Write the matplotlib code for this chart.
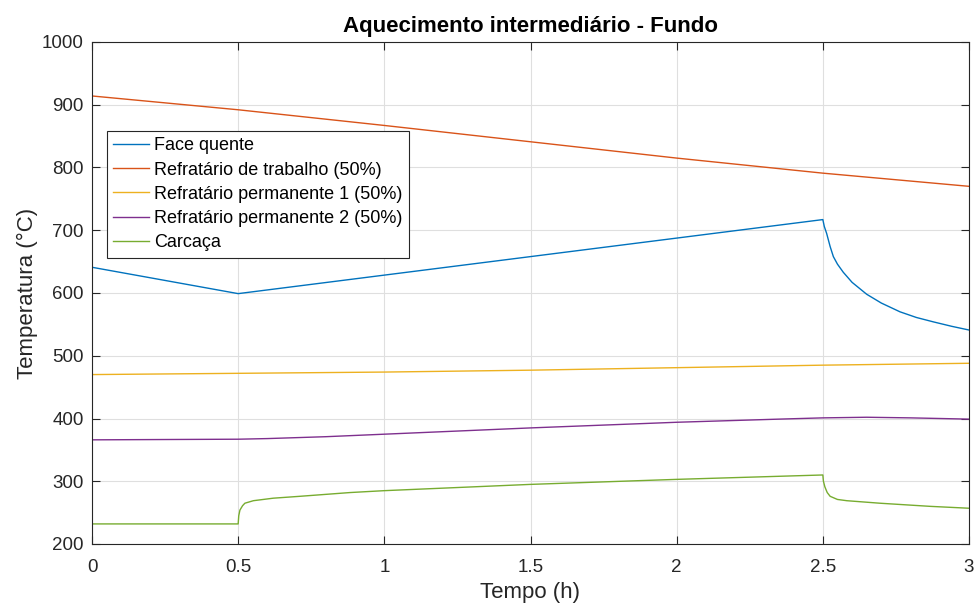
import matplotlib
matplotlib.use("Agg")
import matplotlib.pyplot as plt

plt.rcParams['font.family'] = ['Liberation Sans', 'DejaVu Sans']

# Data (time in h, temperature in °C)
t_face = [0, 0.5, 2.5, 2.505, 2.513, 2.525, 2.536, 2.55, 2.57, 2.6, 2.65, 2.7, 2.764, 2.82, 2.878, 2.94, 3.0]
v_face = [641, 599, 717, 706, 695, 674, 658, 646, 633, 617, 598, 584, 570, 561, 554, 547, 541]

t_trab = [0, 0.5, 1.0, 1.5, 2.0, 2.5, 3.0]
v_trab = [914, 892, 867, 841, 815, 791, 770]

t_perm1 = [0, 0.5, 1.0, 1.5, 2.0, 2.5, 3.0]
v_perm1 = [470, 472, 474, 477, 481, 485, 488]

t_perm2 = [0, 0.5, 0.6, 0.8, 1.0, 1.5, 2.0, 2.35, 2.5, 2.65, 2.8, 3.0]
v_perm2 = [366, 367, 368, 371, 375, 385, 394, 399, 401, 402, 401, 399]

t_carc = [0, 0.5, 0.502, 0.506, 0.515, 0.523, 0.552, 0.62, 0.711, 0.883, 1.0, 1.5, 2.0, 2.5,
          2.502, 2.507, 2.515, 2.525, 2.55, 2.582, 2.695, 2.867, 3.0]
v_carc = [232, 232, 245, 254, 261, 265, 269, 273, 276, 282, 285, 295, 303, 310,
          300, 291, 282, 276, 271, 269, 265, 260, 257]

labels = ["Face quente", "Refratário de trabalho (50%)", "Refratário permanente 1 (50%)",
          "Refratário permanente 2 (50%)", "Carcaça"]
colors = ["#0072BD", "#D95319", "#EDB120", "#7E2F8E", "#77AC30"]

x_ticks = [0, 0.5, 1, 1.5, 2, 2.5, 3]
x_ticklabels = ["0", "0.5", "1", "1.5", "2", "2.5", "3"]
y_ticks = [200, 300, 400, 500, 600, 700, 800, 900, 1000]

fig = plt.figure(figsize=(9.77, 6.11), dpi=100)
ax = fig.add_axes([92/977, 1-544/611, (969-92)/977, (544-42)/611])

series = [(t_face, v_face), (t_trab, v_trab), (t_perm1, v_perm1), (t_perm2, v_perm2), (t_carc, v_carc)]
for (t, v), lab, c in zip(series, labels, colors):
    ax.plot(t, v, color=c, lw=1.0, label=lab)

ax.set_xlim(0, 3)
ax.set_ylim(200, 1000)
ax.set_xticks(x_ticks)
ax.set_xticklabels(x_ticklabels)
ax.set_yticks(y_ticks)
ax.grid(True, color="#DFDFDF", lw=0.8)
ax.set_axisbelow(True)
ax.tick_params(direction='in', length=6, width=0.8, top=True, right=True,
               labelsize=13.5, colors='#262626')
ax.tick_params(axis='x', pad=11)
ax.tick_params(axis='y', pad=6)
for s in ax.spines.values():
    s.set_color('#262626')
    s.set_linewidth(0.8)

ax.set_xlabel("Tempo (h)", fontsize=16, color='#262626', labelpad=4)
ax.set_ylabel("Temperatura (°C)", fontsize=16, color='#262626', labelpad=3)
ax.set_title("Aquecimento intermediário - Fundo", fontsize=16, fontweight='bold', pad=7)

leg = ax.legend(loc='upper left', bbox_to_anchor=((107-92)/877, 1-(131-42)/502),
                fontsize=13, frameon=True, fancybox=False, framealpha=1,
                edgecolor='#262626', handlelength=1.95, handletextpad=0.33,
                borderpad=0.35, labelspacing=0.4, borderaxespad=0)
leg.get_frame().set_linewidth(0.8)

fig.savefig("out.png", dpi=100)
